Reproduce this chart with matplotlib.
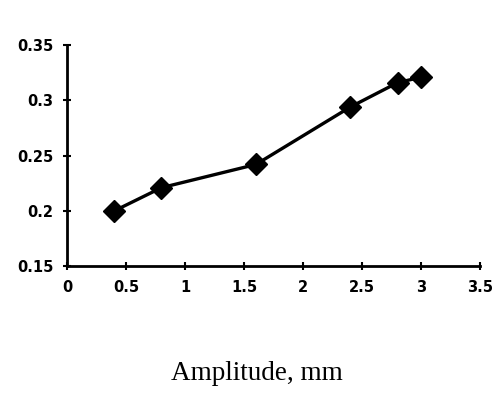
import matplotlib.pyplot as plt

# values
amplitude = [0.4, 0.8, 1.6, 2.4, 2.8, 3.0]
value = [0.200, 0.221, 0.242, 0.294, 0.316, 0.321]
x_ticks = [0, 0.5, 1, 1.5, 2, 2.5, 3, 3.5]
x_labels = ["0", "0.5", "1", "1.5", "2", "2.5", "3", "3.5"]
y_ticks = [0.15, 0.2, 0.25, 0.3, 0.35]
y_labels = ["0.15", "0.2", "0.25", "0.3", "0.35"]

fig = plt.figure(figsize=(4.97, 3.96), dpi=100)
ax = fig.add_axes([0.135, 0.328, 0.831, 0.558])

ax.plot(amplitude, value, color="black", lw=2.4, marker="D", ms=11,
        mfc="black", mec="black", clip_on=False)

ax.set_xlim(0, 3.5)
ax.set_ylim(0.15, 0.35)
ax.set_xticks(x_ticks)
ax.set_xticklabels(x_labels)
ax.set_yticks(y_ticks)
ax.set_yticklabels(y_labels)

for s in ["top", "right"]:
    ax.spines[s].set_visible(False)
for s in ["left", "bottom"]:
    ax.spines[s].set_linewidth(2)

ax.tick_params(direction="inout", length=6, width=1.5, pad=7,
               labelsize=10.5)
for lab in ax.get_xticklabels() + ax.get_yticklabels():
    lab.set_fontfamily("DejaVu Sans")
    lab.set_fontweight("bold")

fig.text(257 / 497, 1 - 374 / 396, "Amplitude, mm", ha="center", va="center",
         fontsize=19.5, family="Liberation Serif")

fig.savefig("out.png", dpi=100)
